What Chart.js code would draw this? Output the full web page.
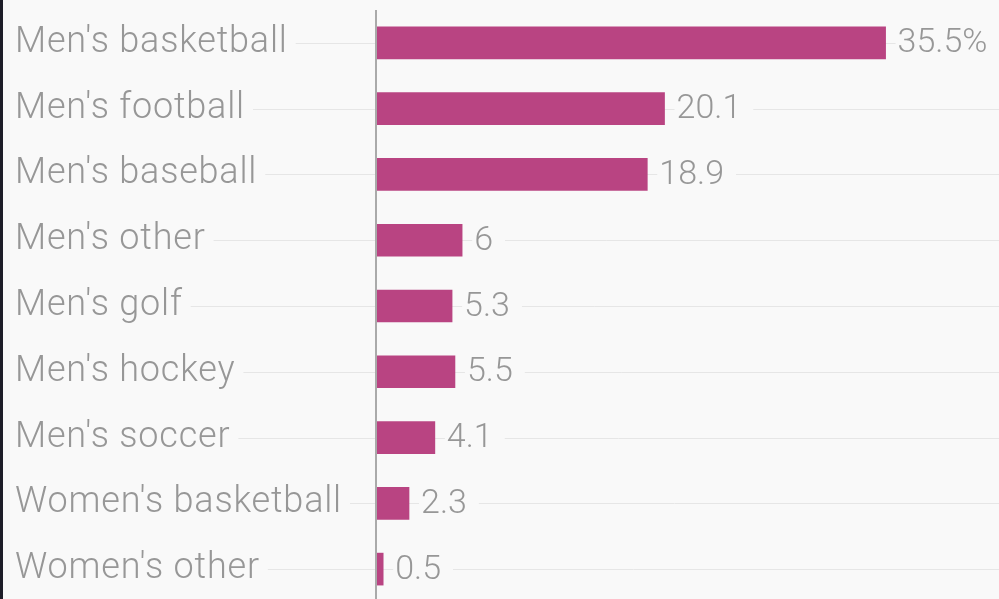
<!DOCTYPE html>
<html>
<head>
<meta charset="utf-8">
<script src="https://cdn.jsdelivr.net/npm/chart.js@4.4.1/dist/chart.umd.min.js"></script>
<style>
  html, body { margin: 0; padding: 0; overflow: hidden; background: #f9f9f9; }
  body { width: 999px; height: 599px; }
  .frame { position: absolute; left: 0; top: 0; width: 996px; height: 604px; border-left: 3px solid #1d1d28; }
  canvas { display: block; }
</style>
</head>
<body>
<div class="frame"><canvas id="chart" width="996" height="604"></canvas></div>
<script>
// ---- data ----
const categories = [
  "Men's basketball", "Men's football", "Men's baseball", "Men's other",
  "Men's golf", "Men's hockey", "Men's soccer", "Women's basketball", "Women's other"
];
const shares = [35.5, 20.1, 18.9, 6, 5.3, 5.5, 4.1, 2.3, 0.5];
const valueLabels = ["35.5%", "20.1", "18.9", "6", "5.3", "5.5", "4.1", "2.3", "0.5"];

const BAR = '#b94482';
const TEXT = '#979797';
const GRID = '#e6e6e6';
const BG = '#f9f9f9';
const LABEL_FONT = { family: 'Roboto', size: 36, weight: '300' };
const VALUE_FONT = { family: 'Roboto', size: 34, weight: '300' };

// grid lines behind everything, axis line + value labels on top
const decor = {
  id: 'decor',
  beforeDraw(chart) {
    chart.ctx.letterSpacing = '0.8px';
  },
  beforeDatasetsDraw(chart) {
    const { ctx, chartArea, scales } = chart;
    const y = scales.y;
    ctx.save();
    ctx.font = `${LABEL_FONT.weight} ${LABEL_FONT.size}px ${LABEL_FONT.family}`;
    ctx.strokeStyle = GRID;
    ctx.lineWidth = 1;
    categories.forEach((c, i) => {
      const yy = Math.round(y.getPixelForValue(i)) + 0.5;
      const start = y.left + ctx.measureText(c).width + 8;
      ctx.beginPath();
      ctx.moveTo(start, yy);
      ctx.lineTo(chartArea.right, yy);
      ctx.stroke();
    });
    ctx.restore();
  },
  afterDatasetsDraw(chart) {
    const { ctx, chartArea, scales } = chart;
    const x = scales.x, y = scales.y;
    ctx.save();
    ctx.letterSpacing = '0px';
    ctx.font = `${VALUE_FONT.weight} ${VALUE_FONT.size}px ${VALUE_FONT.family}`;
    ctx.textBaseline = 'middle';
    ctx.textAlign = 'left';
    shares.forEach((v, i) => {
      const px = x.getPixelForValue(v) + 12;
      const py = y.getPixelForValue(i);
      const w = ctx.measureText(valueLabels[i]).width;
      ctx.fillStyle = BG;
      ctx.fillRect(px - 2, py - 6, w + 14, 12);
      ctx.fillStyle = TEXT;
      ctx.fillText(valueLabels[i], px, py + 1);
    });
    ctx.strokeStyle = '#aaaaaa';
    ctx.lineWidth = 2;
    ctx.beginPath();
    ctx.moveTo(chartArea.left, chartArea.top);
    ctx.lineTo(chartArea.left, chartArea.bottom);
    ctx.stroke();
    ctx.restore();
  }
};

new Chart(document.getElementById('chart'), {
  type: 'bar',
  data: {
    labels: categories,
    datasets: [{
      data: shares,
      backgroundColor: BAR,
      barThickness: 32
    }]
  },
  options: {
    indexAxis: 'y',
    responsive: false,
    animation: false,
    layout: { padding: { left: 12, top: 10, right: 0, bottom: 2 } },
    plugins: { legend: { display: false }, tooltip: { enabled: false } },
    scales: {
      x: { display: false, min: 0, max: 43.4 },
      y: {
        grid: { display: false },
        border: { display: false },
        ticks: { color: TEXT, font: LABEL_FONT, crossAlign: 'far', padding: 0 },
        afterFit(scale) {
          scale.width = 361;
          scale.paddingTop = 0;
          scale.paddingBottom = 0;
        }
      }
    }
  },
  plugins: [decor]
});
</script>
</body>
</html>
